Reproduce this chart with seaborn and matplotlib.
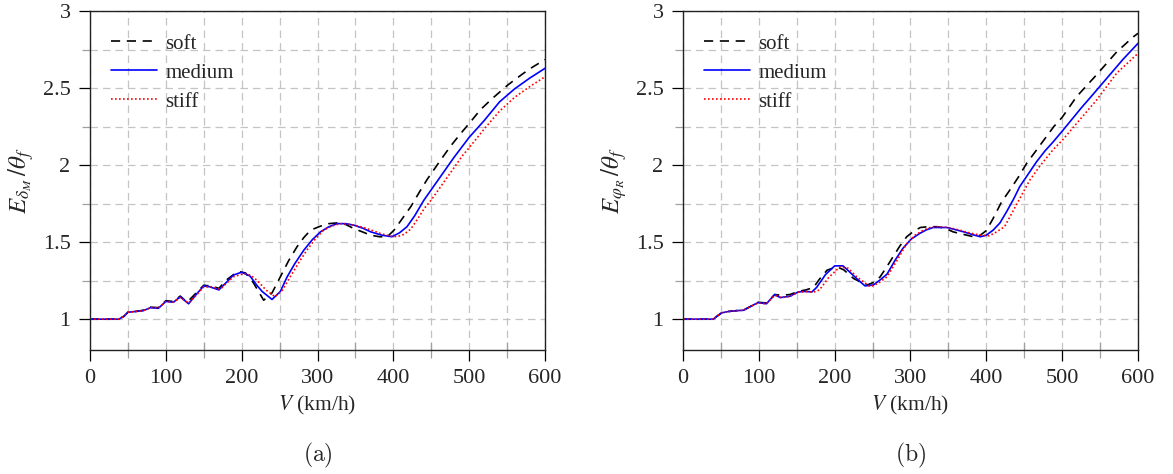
import numpy as np
import pandas as pd
import matplotlib
matplotlib.use("Agg")
import matplotlib.pyplot as plt
from matplotlib.ticker import MultipleLocator, FixedLocator, FixedFormatter
import seaborn as sns

# ---------------- data ----------------
# panel (a): E_delta_M / theta_f
a_soft_v = [0, 38, 45, 50, 60, 70, 80, 90, 100, 110, 119, 128, 140, 150, 160, 170, 180, 195, 205, 215,
            229, 240, 251, 262, 273, 282, 291, 304, 315, 326, 337, 348, 360, 370, 382, 392, 401, 410,
            423, 435, 445, 462, 475, 489, 500, 515, 530, 551, 570, 581, 600]
a_soft_y = [1.0, 1.0, 1.02, 1.045, 1.05, 1.058, 1.078, 1.075, 1.12, 1.115, 1.15, 1.11, 1.17, 1.22, 1.215,
            1.20, 1.255, 1.31, 1.30, 1.24, 1.123, 1.17, 1.275, 1.38, 1.47, 1.53, 1.578, 1.604, 1.62, 1.625,
            1.615, 1.588, 1.565, 1.545, 1.535, 1.535, 1.578, 1.64, 1.73, 1.83, 1.91, 2.03, 2.12, 2.206,
            2.27, 2.36, 2.43, 2.52, 2.59, 2.628, 2.685]

a_med_v = [0, 38, 45, 50, 60, 70, 80, 90, 100, 110, 119, 130, 140, 150, 158, 170, 180, 189, 200, 211,
           220, 227, 240, 251, 260, 270, 282, 293, 304, 315, 326, 337, 348, 360, 370, 385, 398, 408, 418,
           428, 440, 460, 480, 500, 520, 540, 560, 580, 600]
a_med_y = [1.0, 1.0, 1.02, 1.045, 1.05, 1.055, 1.075, 1.07, 1.115, 1.11, 1.145, 1.10, 1.16, 1.216, 1.21,
           1.19, 1.24, 1.286, 1.305, 1.28, 1.22, 1.18, 1.128, 1.18, 1.275, 1.36, 1.448, 1.515, 1.567, 1.60,
           1.62, 1.62, 1.61, 1.59, 1.567, 1.545, 1.535, 1.56, 1.60, 1.67, 1.77, 1.91, 2.05, 2.18, 2.29,
           2.41, 2.495, 2.565, 2.628]

a_stiff_v = [0, 38, 45, 50, 60, 70, 80, 90, 100, 110, 119, 130, 140, 150, 160, 172, 189, 203, 212, 220,
             232, 244, 254, 264, 275, 286, 297, 308, 319, 330, 343, 357, 370, 383, 395, 405, 414, 423,
             432, 441, 451, 461, 471, 481, 491, 502, 520, 540, 560, 580, 600]
a_stiff_y = [1.0, 1.0, 1.02, 1.045, 1.05, 1.055, 1.075, 1.072, 1.115, 1.11, 1.14, 1.105, 1.155, 1.21,
             1.21, 1.195, 1.275, 1.296, 1.285, 1.253, 1.19, 1.145, 1.19, 1.275, 1.365, 1.448, 1.52, 1.578,
             1.605, 1.62, 1.615, 1.60, 1.58, 1.556, 1.54, 1.535, 1.55, 1.585, 1.65, 1.72, 1.78, 1.85,
             1.92, 1.99, 2.06, 2.125, 2.235, 2.35, 2.44, 2.51, 2.573]

# panel (b): E_phi_R / theta_f
b_soft_v = [0, 40, 45, 51, 60, 70, 80, 90, 99, 110, 121, 130, 141, 152, 162, 172, 180, 190, 203, 212,
            225, 242, 252, 260, 270, 277, 286, 295, 304, 313, 323, 335, 346, 356, 370, 383, 392, 400,
            409, 420, 431, 442, 453, 465, 477, 489, 500, 519, 545, 572, 594, 600]
b_soft_y = [1.0, 1.0, 1.02, 1.041, 1.05, 1.055, 1.06, 1.085, 1.11, 1.105, 1.16, 1.155, 1.16, 1.18, 1.19,
            1.205, 1.26, 1.318, 1.34, 1.32, 1.264, 1.22, 1.24, 1.275, 1.35, 1.405, 1.475, 1.535, 1.57,
            1.595, 1.60, 1.60, 1.59, 1.567, 1.55, 1.535, 1.545, 1.575, 1.654, 1.76, 1.838, 1.92, 2.01,
            2.09, 2.17, 2.25, 2.31, 2.444, 2.584, 2.735, 2.833, 2.855]

b_med_v = [0, 40, 45, 51, 60, 70, 80, 90, 99, 110, 121, 128, 141, 152, 160, 170, 176, 188, 200, 211,
           222, 232, 240, 251, 260, 269, 280, 290, 301, 312, 321, 330, 348, 360, 370, 381, 392, 400, 409,
           418, 427, 436, 444, 455, 466, 477, 488, 500, 510, 525, 540, 560, 580, 600]
b_med_y = [1.0, 1.0, 1.02, 1.041, 1.05, 1.055, 1.058, 1.085, 1.108, 1.10, 1.16, 1.14, 1.149, 1.177, 1.18,
           1.177, 1.205, 1.29, 1.346, 1.346, 1.296, 1.25, 1.216, 1.222, 1.255, 1.292, 1.385, 1.46, 1.52,
           1.556, 1.58, 1.595, 1.595, 1.58, 1.567, 1.55, 1.535, 1.545, 1.578, 1.625, 1.70, 1.78, 1.86,
           1.94, 2.02, 2.09, 2.15, 2.22, 2.28, 2.37, 2.455, 2.57, 2.685, 2.79]

b_stiff_v = [0, 40, 45, 51, 60, 70, 80, 90, 99, 110, 121, 130, 141, 152, 162, 172, 180, 192, 207, 218,
             229, 247, 258, 269, 282, 295, 306, 317, 326, 335, 350, 365, 378, 392, 404, 413, 424, 435,
             446, 457, 470, 488, 500, 519, 545, 572, 600]
b_stiff_y = [1.0, 1.0, 1.02, 1.041, 1.05, 1.055, 1.058, 1.085, 1.105, 1.10, 1.155, 1.14, 1.148, 1.175,
             1.18, 1.175, 1.19, 1.27, 1.34, 1.33, 1.275, 1.21, 1.235, 1.275, 1.38, 1.49, 1.545, 1.578,
             1.595, 1.60, 1.595, 1.578, 1.56, 1.545, 1.541, 1.565, 1.60, 1.70, 1.80, 1.90, 1.99, 2.10,
             2.16, 2.27, 2.42, 2.597, 2.725]

series_labels = ["soft", "medium", "stiff"]
x_tick_values = [0, 100, 200, 300, 400, 500, 600]
x_tick_labels = ["0", "100", "200", "300", "400", "500", "600"]
y_tick_values = [1, 1.5, 2, 2.5, 3]
y_tick_labels = ["1", "1.5", "2", "2.5", "3"]
y_labels = [r"$E_{\delta_M}\,/\theta_f$", r"$E_{\varphi_R}\,/\theta_f$"]
x_label = r"$V$ (km/h)"
panel_tags = [r"$\mathrm{(a)}$", r"$\mathrm{(b)}$"]

# ---------------- style ----------------
sns.set_theme(style="ticks")
plt.rcParams["font.family"] = ["Liberation Serif", "DejaVu Serif"]
plt.rcParams["mathtext.fontset"] = "stix"
plt.rcParams["axes.unicode_minus"] = False

fig = plt.figure(figsize=(11.73, 4.74), dpi=100)
W, H = 1173, 474
axes = [fig.add_axes([90 / W, (H - 350) / H, 455 / W, 339 / H]),
        fig.add_axes([683 / W, (H - 350) / H, 455 / W, 339 / H])]

panels = [
    [(a_soft_v, a_soft_y), (a_med_v, a_med_y), (a_stiff_v, a_stiff_y)],
    [(b_soft_v, b_soft_y), (b_med_v, b_med_y), (b_stiff_v, b_stiff_y)],
]
styles = [
    dict(color="black", linewidth=1.2, linestyle=(0, (5.5, 4))),
    dict(color="#0000ff", linewidth=1.2, linestyle="-"),
    dict(color="#ff0000", linewidth=1.2, linestyle=(0, (1, 1.4))),
]

grid_kw = dict(color="#c4c4c4", linestyle=(0, (6, 4)), linewidth=0.9)

for i, ax in enumerate(axes):
    for (v, y), lab, st in zip(panels[i], series_labels, styles):
        df = pd.DataFrame({"V": v, "E": y})
        sns.lineplot(data=df, x="V", y="E", ax=ax, label=lab, estimator=None, sort=False, **st)

    ax.set_xlim(0, 600)
    ax.set_ylim(0.8, 3)
    ax.xaxis.set_major_locator(FixedLocator(x_tick_values))
    ax.xaxis.set_major_formatter(FixedFormatter(x_tick_labels))
    ax.xaxis.set_minor_locator(MultipleLocator(50))
    ax.yaxis.set_major_locator(FixedLocator(y_tick_values))
    ax.yaxis.set_major_formatter(FixedFormatter(y_tick_labels))
    ax.yaxis.set_minor_locator(MultipleLocator(0.25))

    ax.grid(True, which="both", **grid_kw)
    ax.set_axisbelow(True)

    ax.tick_params(which="major", direction="out", length=8, width=0.9, color="black",
                   labelsize=16, pad=6)
    ax.tick_params(axis="y", which="minor", direction="out", length=6, width=0.9, color="#a0a0a0")
    ax.tick_params(axis="x", which="minor", direction="inout", length=11, width=0.9, color="#a0a0a0")
    for s in ax.spines.values():
        s.set_color("#222222")
        s.set_linewidth(1.0)

    ax.set_xlabel(x_label, fontsize=15.5, labelpad=4)
    ax.set_ylabel(y_labels[i], fontsize=18, labelpad=5)

    ax.legend(loc="upper left", bbox_to_anchor=(0.015, 0.975), frameon=False, fontsize=15,
              handlelength=2.2, handletextpad=0.4, labelspacing=0.45, borderaxespad=0.3)

    ax.text(0.5, -0.31, panel_tags[i], transform=ax.transAxes, ha="center", va="center",
            fontsize=17, math_fontfamily="cm")

fig.savefig("out.png", dpi=100)
